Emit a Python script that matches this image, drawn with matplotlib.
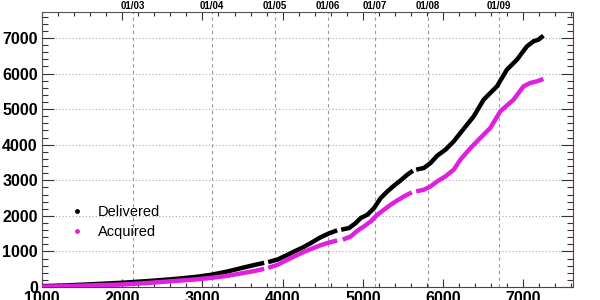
import numpy as np
import matplotlib
matplotlib.use("Agg")
import matplotlib.pyplot as plt
from matplotlib.lines import Line2D
from matplotlib.ticker import MultipleLocator

# ---- data ----
deliv_segments_x = [
    [1000, 1300, 1600, 2000, 2300, 2600, 2900, 3100, 3300, 3500, 3650, 3770],
    [3820, 3940, 4043, 4146, 4250, 4353, 4457, 4560, 4680],
    [4730, 4829, 4912, 4974, 5057, 5140, 5223, 5306, 5388, 5471, 5554, 5625],
    [5665, 5761, 5844, 5927, 6030, 6133, 6216, 6382, 6506, 6672, 6796, 6921, 7045, 7127, 7189, 7251],
]
deliv_segments_y = [
    [25, 45, 75, 120, 165, 215, 280, 340, 430, 540, 620, 680],
    [700, 775, 885, 1000, 1110, 1237, 1378, 1490, 1595],
    [1611, 1659, 1799, 1940, 2033, 2221, 2502, 2688, 2848, 2997, 3157, 3270],
    [3298, 3346, 3486, 3691, 3860, 4094, 4330, 4796, 5266, 5640, 6109, 6390, 6764, 6905, 6952, 7065],
]
acq_segments_x = [
    [1000, 1300, 1600, 2000, 2300, 2600, 2900, 3100, 3300, 3500, 3650, 3770],
    [3820, 3940, 4043, 4146, 4250, 4353, 4457, 4560, 4680],
    [4750, 4850, 4932, 5015, 5099, 5181, 5264, 5347, 5430, 5513, 5610],
    [5665, 5761, 5844, 5927, 6030, 6133, 6216, 6340, 6460, 6589, 6713, 6879, 7003, 7086, 7169, 7251],
]
acq_segments_y = [
    [10, 25, 45, 70, 110, 160, 210, 255, 310, 390, 450, 510],
    [540, 627, 748, 860, 973, 1068, 1161, 1237, 1310],
    [1330, 1423, 1583, 1704, 1844, 2033, 2173, 2314, 2435, 2547, 2660],
    [2688, 2735, 2828, 2969, 3110, 3298, 3579, 3900, 4180, 4470, 4937, 5266, 5640, 5735, 5780, 5848],
]
date_positions = [2135, 3120, 3906, 4567, 5153, 5814, 6699]
date_labels = ["01/03", "01/04", "01/05", "01/06", "01/07", "01/08", "01/09"]
series_labels = ["Delivered", "Acquired"]
series_colors = ["black", "#e020e0"]

plt.rcParams['font.family'] = ['Liberation Sans', 'DejaVu Sans']

fig = plt.figure(figsize=(6, 3), dpi=100)
ax = fig.add_axes([0.07, 0.0433, 0.885, 0.9167])

ax.set_xlim(1000, 7620)
ax.set_ylim(0, 7730)

# grid
for yv in range(1000, 8000, 1000):
    ax.axhline(yv, color="#aaaaaa", lw=0.8, ls=(0, (1, 2)), zorder=0)
for xv in date_positions:
    ax.axvline(xv, color="#999999", lw=0.8, ls=(0, (3, 3)), zorder=0)

for segx, segy, segx2, segy2 in zip(deliv_segments_x, deliv_segments_y,
                                    acq_segments_x, acq_segments_y):
    ax.plot(segx, segy, color=series_colors[0], lw=3.2, solid_capstyle='butt', zorder=3)
    ax.plot(segx2, segy2, color=series_colors[1], lw=3.2, solid_capstyle='butt', zorder=3)

handles = [Line2D([], [], ls='none', marker='o', ms=2.5, color=c) for c in series_colors]
ax.legend(handles, series_labels, loc='upper left', bbox_to_anchor=(0.042, 0.32),
          frameon=False, fontsize=10.5, handlelength=1.0, handletextpad=0.9,
          labelspacing=0.45, borderaxespad=0)

ax.xaxis.set_major_locator(MultipleLocator(1000))
ax.xaxis.set_minor_locator(MultipleLocator(200))
ax.yaxis.set_major_locator(MultipleLocator(1000))
ax.yaxis.set_minor_locator(MultipleLocator(200))

ax.tick_params(axis='both', which='both', direction='in', top=True, right=True,
               color='#333333', width=0.8)
ax.tick_params(axis='x', which='major', length=6, pad=3)
ax.tick_params(axis='x', which='minor', length=3)
ax.tick_params(axis='y', which='major', length=8.5, pad=3)
ax.tick_params(axis='y', which='minor', length=4.3)
for lab in ax.get_xticklabels() + ax.get_yticklabels():
    lab.set_fontweight('bold')
    lab.set_fontsize(11.5)

ax.spines['left'].set_color('#555555')
ax.spines['top'].set_color('#555555')
ax.spines['bottom'].set_color('#8b2252')
ax.spines['right'].set_color('#8b2252')

sec = ax.secondary_xaxis('top')
sec.set_xticks(date_positions)
sec.set_xticklabels(date_labels, fontsize=7, fontweight='bold')
sec.tick_params(length=0, pad=1)
sec.spines['top'].set_visible(False)

fig.savefig("out.png", dpi=100)
